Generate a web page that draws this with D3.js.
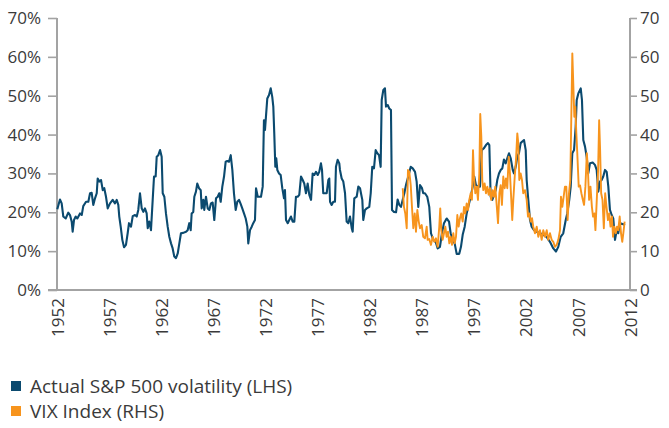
<!DOCTYPE html>
<html>
<head>
<meta charset="utf-8">
<script src="https://cdn.jsdelivr.net/npm/d3@7"></script>
<style>
  body { margin: 0; background: #fff; }
  text { font-family: "Open Sans", sans-serif; fill: #3a3a3a; }
</style>
</head>
<body>
<div id="chart-area"></div>
<script>
// x positions are in chart units: 1952 at the left axis, 2012 at the right axis
// the 12 year labels sit evenly spaced along it (the source skips 1992)
var tickLabels = ["1952", "1957", "1962", "1967", "1972", "1977", "1982", "1987", "1997", "2002", "2007", "2012"];
var leftTicks = [0, 10, 20, 30, 40, 50, 60, 70];
var rightTicks = [0, 10, 20, 30, 40, 50, 60, 70];
var seriesNames = ["Actual S&P 500 volatility (LHS)", "VIX Index (RHS)"];
var seriesColors = ["#0b4a6f", "#f7941d"];

var volYears = [1952.03,1952.31,1952.49,1952.66,1952.91,1953.18,1953.36,1953.54,1953.64,1953.78,1953.96,1954.13,1954.41,1954.59,1954.75,1955.04,1955.28,1955.46,1955.63,1955.80,1955.98,1956.16,1956.26,1956.43,1956.61,1956.79,1956.95,1957.13,1957.31,1957.55,1957.83,1958.07,1958.25,1958.42,1958.52,1958.67,1958.84,1959.02,1959.22,1959.40,1959.54,1959.75,1959.93,1960.17,1960.35,1960.51,1960.69,1960.87,1961.04,1961.21,1961.39,1961.50,1961.66,1961.84,1962.02,1962.16,1962.33,1962.44,1962.61,1962.79,1962.96,1963.07,1963.24,1963.41,1963.59,1963.76,1963.94,1964.11,1964.28,1964.46,1964.64,1964.81,1964.98,1965.22,1965.51,1965.68,1965.85,1966.00,1966.10,1966.27,1966.38,1966.55,1966.69,1966.87,1967.05,1967.15,1967.32,1967.42,1967.60,1967.78,1967.95,1968.12,1968.30,1968.47,1968.65,1968.83,1968.99,1969.14,1969.31,1969.49,1969.66,1969.83,1970.01,1970.19,1970.36,1970.53,1970.71,1970.88,1971.06,1971.24,1971.40,1971.58,1971.76,1971.93,1972.03,1972.21,1972.39,1972.55,1972.73,1972.84,1973.02,1973.18,1973.36,1973.54,1973.67,1973.78,1973.88,1974.02,1974.20,1974.38,1974.54,1974.65,1974.75,1974.86,1974.96,1975.07,1975.25,1975.42,1975.59,1975.77,1975.87,1975.98,1976.16,1976.32,1976.50,1976.68,1976.85,1977.02,1977.20,1977.37,1977.55,1977.73,1977.89,1978.07,1978.25,1978.42,1978.60,1978.77,1978.94,1979.12,1979.30,1979.46,1979.64,1979.75,1979.88,1980.06,1980.24,1980.41,1980.51,1980.59,1980.76,1980.93,1981.11,1981.21,1981.39,1981.56,1981.63,1981.81,1981.98,1982.16,1982.33,1982.50,1982.68,1982.86,1982.96,1983.13,1983.38,1983.55,1983.73,1983.83,1983.97,1984.07,1984.25,1984.43,1984.70,1984.85,1985.01,1985.19,1985.37,1985.54,1985.72,1985.89,1986.00,1986.17,1986.34,1986.45,1986.63,1986.79,1986.97,1987.08,1987.29,1987.50,1987.67,1987.84,1988.02,1988.20,1988.37,1988.54,1988.78,1989.04,1989.25,1989.49,1989.66,1989.83,1990.01,1990.22,1990.35,1990.53,1990.77,1990.98,1991.16,1991.40,1991.68,1991.86,1992.10,1992.31,1992.52,1992.80,1993.05,1993.22,1993.43,1993.64,1993.85,1994.12,1994.30,1994.48,1994.69,1994.90,1995.11,1995.32,1995.53,1995.69,1995.87,1996.05,1996.29,1996.47,1996.71,1996.92,1997.13,1997.27,1997.41,1997.58,1997.76,1997.94,1998.10,1998.28,1998.46,1998.63,1998.80,1998.98,1999.15,1999.33,1999.51,1999.72,1999.85,2000.03,2000.20,2000.37,2000.55,2000.72,2000.90,2001.08,2001.18,2001.35,2001.53,2001.70,2001.95,2002.23,2002.57,2002.92,2003.28,2003.62,2003.97,2004.25,2004.49,2004.74,2005.01,2005.27,2005.43,2005.64,2005.79,2005.96,2006.14,2006.31,2006.42,2006.59,2006.84,2006.97,2007.11,2007.29,2007.46,2007.63,2007.81,2008.09,2008.33,2008.51,2008.68,2008.86,2009.03,2009.20,2009.38,2009.56,2009.73,2009.90,2010.08,2010.25,2010.43,2010.61,2010.77,2010.95,2011.23,2011.47];
var volValues = [20.8,23.3,22.3,18.9,18.4,19.9,19.3,17.6,15.0,18.0,18.9,18.4,19.7,19.3,21.6,22.7,22.7,24.9,25.0,21.9,23.6,24.9,28.7,27.9,28.3,25.7,26.2,24.0,21.0,22.3,23.2,22.3,23.2,21.9,18.9,16.3,12.9,11.0,11.6,14.6,17.2,16.3,19.0,19.3,18.9,20.6,24.9,21.0,20.1,21.0,19.7,15.9,17.6,15.4,23.2,29.2,29.2,34.3,34.7,36.0,34.3,24.9,24.0,19.7,16.3,13.7,12.0,10.7,8.6,8.2,9.4,12.0,14.6,14.7,15.0,15.4,17.2,15.4,19.7,20.1,24.0,25.3,27.4,26.2,25.7,21.0,23.2,20.6,24.0,21.0,20.6,22.3,22.5,18.0,23.6,24.0,24.9,22.7,26.6,29.2,33.0,33.2,33.0,34.7,30.9,24.9,20.6,22.7,23.2,22.1,21.0,19.7,18.4,16.3,12.0,15.4,16.3,17.2,18.0,26.2,24.0,24.0,24.0,26.6,43.7,41.2,44.6,49.3,50.2,51.9,49.7,47.2,40.3,31.7,33.9,30.9,30.0,29.6,26.2,23.6,25.7,18.0,17.2,18.0,18.9,17.6,17.6,24.0,24.0,24.5,29.2,28.3,27.4,24.9,27.4,24.5,23.2,30.0,29.6,30.4,29.6,30.4,32.6,30.9,24.9,24.9,24.9,28.3,28.7,22.7,21.9,22.7,22.7,31.7,33.5,32.6,30.9,28.7,27.9,24.9,17.6,17.2,18.9,15.9,15.0,23.6,24.0,26.6,26.2,24.9,23.2,18.0,20.6,21.0,21.4,24.9,31.7,31.3,36.0,35.2,34.7,31.7,48.9,51.5,51.9,47.2,47.6,46.7,46.3,20.6,20.1,20.0,23.3,21.9,21.4,23.2,24.9,27.0,29.2,31.7,31.3,30.4,27.9,21.4,27.0,26.2,24.9,24.9,24.0,21.4,14.6,12.9,12.2,10.7,11.1,14.6,17.2,18.4,17.6,14.6,12.9,12.0,9.3,9.3,11.1,14.2,16.3,19.7,21.9,24.0,26.6,29.2,27.0,26.6,26.6,36.0,36.5,37.3,37.8,37.3,24.0,23.2,24.5,25.7,28.3,30.0,30.9,31.3,33.6,32.6,33.9,35.2,33.9,30.9,30.0,31.7,34.3,35.2,37.8,38.2,38.6,36.0,28.3,23.2,18.0,16.3,15.4,15.0,14.6,14.2,13.6,12.4,10.7,9.9,11.1,13.7,14.6,18.0,19.7,23.2,26.6,35.2,36.0,42.0,48.9,50.6,51.9,48.9,38.6,36.9,34.3,30.0,32.6,32.8,32.2,30.9,25.3,27.9,28.3,29.2,30.9,30.4,26.6,20.6,19.3,18.4,12.9,15.4,14.6,17.2,17.0,16.7];

var vixYears = [1988.20,1988.33,1988.47,1988.62,1988.75,1988.89,1989.04,1989.17,1989.31,1989.46,1989.59,1989.73,1989.88,1990.01,1990.19,1990.35,1990.53,1990.71,1990.81,1990.98,1991.16,1991.34,1991.51,1991.68,1991.86,1992.03,1992.13,1992.24,1992.38,1992.52,1992.66,1992.80,1992.94,1993.08,1993.22,1993.36,1993.50,1993.64,1993.78,1993.92,1994.06,1994.20,1994.33,1994.48,1994.62,1994.75,1994.90,1995.04,1995.17,1995.32,1995.45,1995.56,1995.66,1995.80,1995.95,1996.08,1996.22,1996.32,1996.43,1996.53,1996.64,1996.78,1996.92,1997.06,1997.20,1997.34,1997.47,1997.62,1997.76,1997.89,1998.04,1998.18,1998.32,1998.46,1998.59,1998.73,1998.88,1999.01,1999.15,1999.30,1999.43,1999.57,1999.67,1999.78,1999.93,2000.06,2000.20,2000.30,2000.41,2000.55,2000.69,2000.82,2001.00,2001.18,2001.32,2001.45,2001.60,2001.74,2001.87,2002.05,2002.23,2002.40,2002.57,2002.75,2002.92,2003.10,2003.28,2003.44,2003.62,2003.80,2003.97,2004.14,2004.32,2004.49,2004.67,2004.77,2004.91,2005.01,2005.19,2005.33,2005.47,2005.61,2005.75,2005.96,2006.06,2006.17,2006.27,2006.38,2006.48,2006.63,2006.77,2006.91,2007.06,2007.19,2007.33,2007.48,2007.58,2007.72,2007.86,2008.01,2008.13,2008.27,2008.38,2008.52,2008.66,2008.77,2008.87,2008.98,2009.12,2009.26,2009.40,2009.54,2009.69,2009.82,2009.96,2010.11,2010.22,2010.36,2010.51,2010.64,2010.77,2010.92,2011.06,2011.19,2011.30,2011.44];
var vixValues = [26.2,21.4,19.7,15.9,30.9,30.4,27.0,21.4,15.9,19.7,15.0,20.6,17.6,15.9,16.7,13.7,13.3,16.3,12.9,13.1,11.6,13.7,12.4,13.3,11.1,16.3,21.0,15.4,12.9,14.6,16.3,13.7,15.0,12.0,13.7,11.6,14.6,12.0,13.7,19.3,16.3,18.5,19.7,17.6,21.4,19.7,22.3,20.6,23.2,24.9,23.2,36.0,29.2,24.9,26.6,23.2,30.0,45.3,39.5,28.3,25.7,27.4,24.9,26.6,24.5,26.2,23.2,25.7,24.0,26.6,21.9,17.2,24.9,27.0,21.9,29.2,26.2,28.7,26.2,34.3,30.0,23.2,18.0,23.2,29.2,33.5,40.3,37.8,28.3,30.0,28.3,24.9,25.7,23.2,18.9,19.7,17.6,18.5,16.3,14.6,16.3,13.7,15.4,12.9,15.4,13.7,15.4,12.9,14.6,12.9,12.4,11.1,11.6,12.9,15.4,24.0,21.4,23.2,26.6,26.6,18.0,24.9,28.3,60.9,53.2,44.6,47.2,40.3,35.2,26.6,26.9,24.9,23.2,21.9,26.6,35.2,31.7,23.2,26.6,21.4,18.9,19.7,15.4,23.2,30.9,43.7,36.0,24.9,23.2,15.9,24.9,21.4,18.0,19.7,16.3,18.9,13.7,16.3,14.6,16.3,15.4,18.9,14.6,12.4,14.6,17.6];

var margin = { left: 57, right: 39, top: 18, bottom: 138 };
var width = 669 - margin.left - margin.right,
    height = 428 - margin.top - margin.bottom;

var svg = d3.select("#chart-area")
    .append("svg")
        .attr("width", 669)
        .attr("height", 428);

var g = svg.append("g")
    .attr("transform", "translate(" + margin.left + ", " + margin.top + ")");

var x = d3.scaleLinear()
    .domain([1952, 2012])
    .range([0, width]);

// evenly spaced label slots along the x domain
var labelPos = d3.scalePoint()
    .domain(tickLabels)
    .range(x.domain());

var yL = d3.scaleLinear().domain([0, 70]).range([height, 0]);
var yR = d3.scaleLinear().domain([0, 70]).range([height, 0]);

var axisGrey = "#a3a3a3";

// left axis
g.append("g")
    .attr("class", "y-axis")
    .call(d3.axisLeft(yL).tickValues(leftTicks).tickSize(9).tickPadding(7).tickFormat(d => d + "%"));

// right axis
g.append("g")
    .attr("class", "y-axis-right")
    .attr("transform", "translate(" + width + ", 0)")
    .call(d3.axisRight(yR).tickValues(rightTicks).tickSize(7).tickPadding(3));

// bottom axis, labels only
var xAxis = g.append("g")
    .attr("class", "x-axis")
    .attr("transform", "translate(0, " + height + ")")
    .call(d3.axisBottom(x).tickValues(tickLabels.map(d => labelPos(d))).tickSize(0)
        .tickFormat((d, i) => tickLabels[i]));

xAxis.select(".domain").remove();
xAxis.selectAll("text")
    .attr("transform", "rotate(-90)")
    .attr("text-anchor", "end")
    .attr("x", -8)
    .attr("y", 0)
    .attr("dy", "0.36em");

g.append("line")
    .attr("x1", -9).attr("x2", width + 7)
    .attr("y1", height).attr("y2", height)
    .attr("stroke", axisGrey)
    .attr("stroke-width", 2);

g.selectAll(".y-axis .domain, .y-axis-right .domain")
    .attr("stroke", axisGrey)
    .attr("stroke-width", 2)
    .attr("d", function () {
      return "M0," + yL(70) + "V" + yL(0);
    });
g.selectAll(".y-axis .tick line, .y-axis-right .tick line")
    .attr("stroke", axisGrey)
    .attr("stroke-width", 1.6);
g.selectAll(".y-axis text, .y-axis-right text, .x-axis text")
    .attr("font-size", "17px")
    .attr("fill", "#3a3a3a");

var volData = volYears.map((d, i) => ({ t: d, v: volValues[i] }));
var vixData = vixYears.map((d, i) => ({ t: d, v: vixValues[i] }));

var lineL = d3.line().x(d => x(d.t)).y(d => yL(d.v));
var lineR = d3.line().x(d => x(d.t)).y(d => yR(d.v));

g.append("path")
    .datum(volData)
    .attr("fill", "none")
    .attr("stroke", seriesColors[0])
    .attr("stroke-width", 2.1)
    .attr("stroke-linejoin", "round")
    .attr("d", lineL);

g.append("path")
    .datum(vixData)
    .attr("fill", "none")
    .attr("stroke", seriesColors[1])
    .attr("stroke-width", 1.9)
    .attr("stroke-linejoin", "round")
    .attr("d", lineR);

// legend
var legend = svg.selectAll(".legend")
    .data(seriesNames)
    .enter()
    .append("g")
    .attr("class", "legend")
    .attr("transform", (d, i) => "translate(11, " + (386 + i * 25) + ")");

legend.append("rect")
    .attr("x", 0).attr("y", -5)
    .attr("width", 10).attr("height", 10)
    .attr("fill", (d, i) => seriesColors[i]);

legend.append("text")
    .attr("x", 19)
    .attr("dy", "0.35em")
    .attr("font-size", "19px")
    .attr("fill", "#333")
    .text(d => d);
</script>
</body>
</html>
